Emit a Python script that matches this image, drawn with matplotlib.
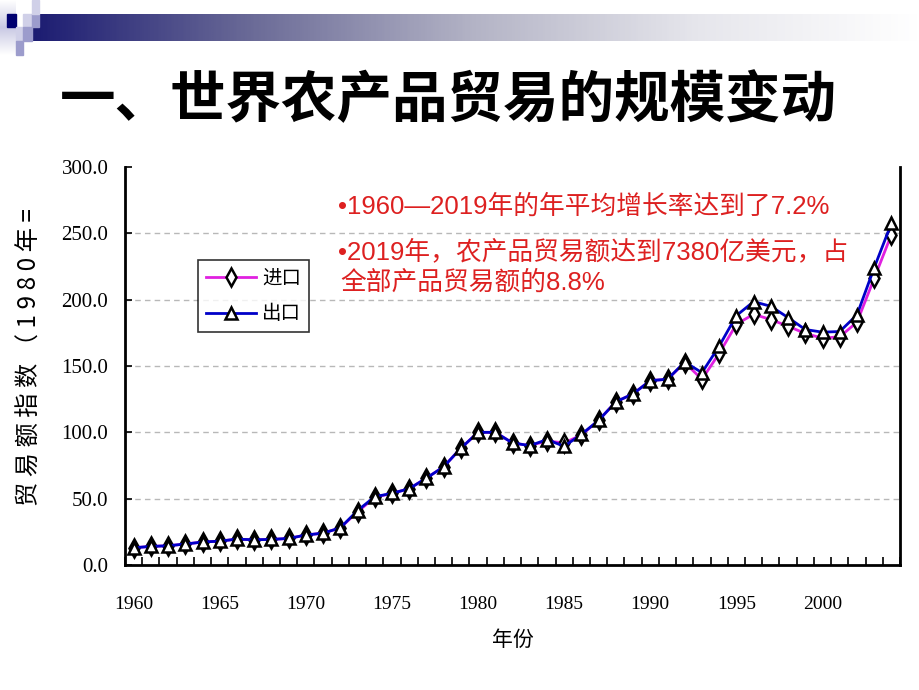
import matplotlib
matplotlib.use("Agg")
import matplotlib.pyplot as plt
import numpy as np
from matplotlib.patches import Rectangle
from matplotlib.colors import LinearSegmentedColormap

plt.rcParams['font.family'] = ['Noto Sans CJK SC', 'DejaVu Sans']

years = list(range(1960, 2005))
imports = [13.0, 14.0, 14.5, 15.8, 17.3, 18.0, 19.5, 19.0, 19.3, 20.0,
           22.6, 24.0, 28.0, 40.0, 51.0, 54.0, 57.5, 65.5, 74.0, 88.0,
           100.0, 100.0, 92.0, 90.0, 93.5, 92.0, 98.0, 109.0, 123.0, 129.0,
           139.0, 140.0, 152.5, 140.0, 159.5, 181.5, 189.0, 185.0, 180.0, 174.5,
           171.0, 172.0, 183.0, 216.0, 249.0]
exports = [13.0, 14.0, 14.5, 15.8, 17.3, 18.0, 19.5, 19.0, 19.3, 20.0,
           22.6, 24.0, 28.0, 41.0, 51.5, 54.0, 57.5, 65.5, 74.0, 88.0,
           100.0, 100.0, 92.0, 90.0, 94.5, 89.5, 98.5, 109.0, 123.0, 129.0,
           139.0, 140.0, 153.0, 145.0, 165.0, 188.0, 198.5, 195.0, 186.5, 177.5,
           175.5, 176.0, 188.5, 224.0, 257.5]
xtick_years = [1960, 1965, 1970, 1975, 1980, 1985, 1990, 1995, 2000]
yticks = [0, 50, 100, 150, 200, 250, 300]

W, H = 920, 690
fig = plt.figure(figsize=(W / 100, H / 100), dpi=100)

# --- decoration top-left ---
def rect(x0, y0, x1, y1, color):
    fig.patches.append(Rectangle((x0 / W, 1 - y1 / H), (x1 - x0) / W, (y1 - y0) / H,
                                 transform=fig.transFigure, color=color, zorder=0))

axg = fig.add_axes([32 / W, 1 - 41 / H, (W - 32) / W, 27 / H])
cmap = LinearSegmentedColormap.from_list('g', ['#1c1c72', '#6c6c98', '#b4b4c6', '#e6e6ec', '#ffffff'])
axg.imshow(np.linspace(0, 1, 400)[None, :], aspect='auto', cmap=cmap, extent=[0, 1, 0, 1])
axg.axis('off')

axl = fig.add_axes([0, 1 - 55 / H, 16 / W, 55 / H])
axl.imshow(np.linspace(0, 1, 100)[:, None], aspect='auto',
           cmap=LinearSegmentedColormap.from_list('l', ['#ffffff', '#c8c8e4', '#ffffff']),
           extent=[0, 1, 0, 1])
axl.axis('off')
rect(7, 14, 16, 27, '#000070')
rect(23, 14, 32, 27, '#d0d0e8')
rect(32, 14, 39, 27, '#9c9ccc')
rect(32, 0, 39, 14, '#d0d0e8')
rect(16, 27, 23, 41, '#d0d0e8')
rect(23, 27, 32, 41, '#9c9ccc')
rect(16, 41, 23, 55, '#9c9ccc')

# --- title ---
fig.text(60 / W, 1 - 101 / H, '一、世界农产品贸易的规模变动', fontsize=40,
         fontweight='heavy', ha='left', va='center', color='black')

# --- main axes ---
ax = fig.add_axes([125 / W, 1 - 565 / H, (900 - 125) / W, (565 - 167) / H])
ax.plot(years, imports, color='#e020e0', lw=2.0, marker='d', markersize=9,
        markerfacecolor='white', markeredgecolor='black', markeredgewidth=1.8,
        label='进口', zorder=3)
ax.plot(years, exports, color='#0000c8', lw=2.0, marker='^', markersize=9,
        markerfacecolor='white', markeredgecolor='black', markeredgewidth=1.8,
        label='出口', zorder=4)

ax.set_xlim(1959.5, 2004.5)
ax.set_ylim(0, 300)
ax.set_xticks(xtick_years)
ax.set_xticklabels([str(y) for y in xtick_years], family='Liberation Serif', fontsize=14)
ax.set_xticks(np.arange(1959.5, 2005, 1.0), minor=True)
ax.tick_params(axis='x', which='major', length=0, pad=22)
ax.tick_params(axis='x', which='minor', direction='in', length=6, width=1.2)
ax.set_yticks(yticks)
ax.set_yticklabels(['%.1f' % v for v in yticks], family='Liberation Serif', fontsize=15)
ax.tick_params(axis='y', direction='in', length=5, width=1.2, pad=12)
for v in yticks[1:-1]:
    ax.axhline(v, color='#b8b8b8', lw=1.0, ls=(0, (4, 3)), zorder=1)
for s in ['left', 'bottom', 'right']:
    ax.spines[s].set_linewidth(2.0)
ax.spines['top'].set_visible(False)

ax.set_xlabel('年份', fontsize=15, labelpad=12)
fig.text(30 / W, 1 - 357 / H, '贸 易 额 指 数 （ 1 9 8 0 年 =', rotation=90,
         fontsize=17.5, ha='center', va='center')

leg = ax.legend(loc='upper left', bbox_to_anchor=((198 - 125) / 775, (565 - 260) / 398),
                frameon=True, fancybox=False, edgecolor='black', fontsize=14,
                handlelength=2.6, borderpad=0.4, labelspacing=0.75, handletextpad=0.3,
                borderaxespad=0)
leg.get_frame().set_linewidth(1.2)

red = '#dd2020'
rfam = ['Liberation Sans', 'Noto Sans CJK SC']
fig.text(338 / W, 1 - 207 / H, '•1960—2019年的年平均增长率达到了7.2%', fontsize=18.5,
         color=red, ha='left', va='center', family=rfam)
fig.text(338 / W, 1 - 252 / H, '•2019年，农产品贸易额达到7380亿美元，占', fontsize=18.5,
         color=red, ha='left', va='center', family=rfam)
fig.text(340 / W, 1 - 283 / H, '全部产品贸易额的8.8%', fontsize=18.5,
         color=red, ha='left', va='center', family=rfam)

fig.savefig('out.png', dpi=100)
